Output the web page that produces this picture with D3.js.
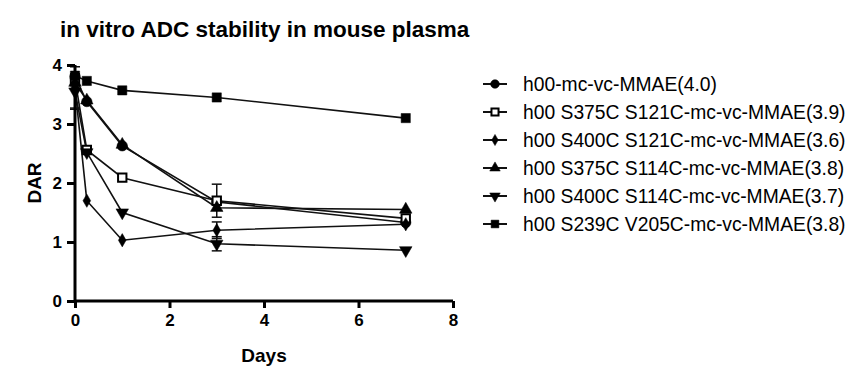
<!DOCTYPE html>
<html>
<head>
<meta charset="utf-8">
<script src="https://cdn.jsdelivr.net/npm/d3@7"></script>
<style>
  body { margin: 0; background: #fff; }
  text { font-family: "Liberation Sans", Arial, sans-serif; }
</style>
</head>
<body>
<div id="chart"></div>
<script>
const days = [0, 0.25, 1, 3, 7]
const names = [
  'h00-mc-vc-MMAE(4.0)',
  'h00 S375C S121C-mc-vc-MMAE(3.9)',
  'h00 S400C S121C-mc-vc-MMAE(3.6)',
  'h00 S375C S114C-mc-vc-MMAE(3.8)',
  'h00 S400C S114C-mc-vc-MMAE(3.7)',
  'h00 S239C V205C-mc-vc-MMAE(3.8)'
]
const darH00 = [3.8, 3.38, 2.63, 1.68, 1.33]
const darS375S121 = [3.75, 2.56, 2.09, 1.7, 1.4]
const darS400S121 = [3.62, 1.7, 1.03, 1.2, 1.3]
const darS375S114 = [3.7, 3.4, 2.65, 1.58, 1.55]
const darS400S114 = [3.55, 2.52, 1.5, 0.97, 0.86]
const darS239V205 = [3.82, 3.73, 3.57, 3.45, 3.1]
// symmetric error (SD), 0 = none drawn
const errS375S121 = [0.1, 0, 0, 0.28, 0]
const errS400S121 = [0.35, 0, 0, 0.14, 0]
const errS400S114 = [0.3, 0, 0, 0.12, 0]
const xTicks = [0, 2, 4, 6, 8]
const yTicks = [0, 1, 2, 3, 4]

const series = [
  { name: names[0], values: darH00, err: null, shape: 'circle' },
  { name: names[1], values: darS375S121, err: errS375S121, shape: 'squareOpen' },
  { name: names[2], values: darS400S121, err: errS400S121, shape: 'diamond' },
  { name: names[3], values: darS375S114, err: null, shape: 'triUp' },
  { name: names[4], values: darS400S114, err: errS400S114, shape: 'triDown' },
  { name: names[5], values: darS239V205, err: null, shape: 'square' }
]

const W = 865
const H = 374

const svg = d3.select('#chart').append('svg').attr('width', W).attr('height', H)

const x = d3.scaleLinear([0, 8], [75, 453])
const y = d3.scaleLinear([0, 4], [301, 65])

function symbolPath(shape, size) {
  if (shape === 'circle') return d3.symbol(d3.symbolCircle, size)()
  if (shape === 'square' || shape === 'squareOpen') return d3.symbol(d3.symbolSquare, size)()
  if (shape === 'diamond') return d3.symbol(d3.symbolDiamond, size * 0.6)()
  return d3.symbol(d3.symbolTriangle, size * 0.8)()
}

function drawMarker(g, shape, size) {
  const p = g.append('path')
    .attr('d', symbolPath(shape, size))
    .attr('fill', shape === 'squareOpen' ? '#fff' : '#000')
    .attr('stroke', '#000')
    .attr('stroke-width', shape === 'squareOpen' ? 2 : 0.5)
  if (shape === 'triDown') p.attr('transform', 'rotate(180)')
  return p
}

// title
svg.append('text')
  .attr('x', 60).attr('y', 37)
  .attr('font-size', 22.5).attr('font-weight', 'bold')
  .text('in vitro ADC stability in mouse plasma')

const line = d3.line().x((d, i) => x(days[i])).y((d) => y(d))

const plot = svg.append('g')

series.forEach((s) => {
  plot.append('path')
    .attr('d', line(s.values))
    .attr('fill', 'none')
    .attr('stroke', '#111')
    .attr('stroke-width', 1.6)
})

// error bars
series.forEach((s) => {
  if (!s.err) return
  s.values.forEach((v, i) => {
    const e = s.err[i]
    if (!e) return
    const cx = x(days[i])
    plot.append('line')
      .attr('x1', cx).attr('x2', cx)
      .attr('y1', y(v - e)).attr('y2', y(v + e))
      .attr('stroke', '#111').attr('stroke-width', 1.5)
    ;[v - e, v + e].forEach((t) => {
      plot.append('line')
        .attr('x1', cx - 5).attr('x2', cx + 5)
        .attr('y1', y(t)).attr('y2', y(t))
        .attr('stroke', '#111').attr('stroke-width', 1.5)
    })
  })
})

series.forEach((s) => {
  s.values.forEach((v, i) => {
    const g = plot.append('g').attr('transform', `translate(${x(days[i])},${y(v)})`)
    drawMarker(g, s.shape, s.shape === 'squareOpen' ? 70 : 85)
  })
})

// axes
const xAxis = svg.append('g')
  .attr('transform', 'translate(0,301)')
  .call(d3.axisBottom(x).tickValues(xTicks).tickFormat(d3.format('d')).tickSize(7).tickPadding(6))
const yAxis = svg.append('g')
  .attr('transform', 'translate(75,0)')
  .call(d3.axisLeft(y).tickValues(yTicks).tickFormat(d3.format('d')).tickSize(8).tickPadding(5))

;[xAxis, yAxis].forEach((a) => {
  a.select('.domain').attr('stroke', '#000').attr('stroke-width', 3)
  a.selectAll('.tick line').attr('stroke', '#000').attr('stroke-width', 3)
  a.selectAll('.tick text')
    .attr('fill', '#000')
    .attr('font-size', 17).attr('font-weight', 'bold')
    .attr('font-family', '"Liberation Sans", Arial, sans-serif')
})
xAxis.select('.domain').attr('d', 'M75,0H453')
yAxis.select('.domain').attr('d', 'M0,65V301')

svg.append('text')
  .attr('x', 264).attr('y', 362)
  .attr('text-anchor', 'middle')
  .attr('font-size', 19).attr('font-weight', 'bold')
  .text('Days')

svg.append('text')
  .attr('transform', 'translate(41,183) rotate(-90)')
  .attr('text-anchor', 'middle')
  .attr('font-size', 19).attr('font-weight', 'bold')
  .text('DAR')

// legend
const legend = svg.append('g')
series.forEach((s, i) => {
  const ly = 84 + i * 28
  const g = legend.append('g').attr('transform', `translate(495,${ly})`)
  g.append('line').attr('x1', -12).attr('x2', 12)
    .attr('stroke', '#111').attr('stroke-width', 2)
  drawMarker(g, s.shape, s.shape === 'squareOpen' ? 50 : 60)
  legend.append('text')
    .attr('x', 523).attr('y', ly + 7)
    .attr('font-size', 19.3)
    .text(s.name)
})
</script>
</body>
</html>
